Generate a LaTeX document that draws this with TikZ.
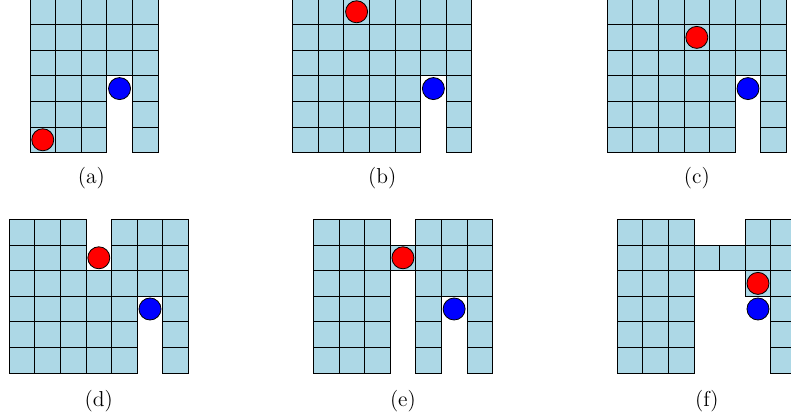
\documentclass[tikz,border=0pt]{standalone}
\usepackage{xcolor}
\usepackage{tikz}
\usetikzlibrary{positioning}

\definecolor{cellblue}{RGB}{173,216,230}

\begin{document}
\begin{tikzpicture}[
    x=0.5cm, y=0.5cm,
    cell/.style={draw=black, fill=cellblue, line width=0.45pt},
    agent/.style={circle, draw=black, line width=0.45pt, inner sep=0pt, minimum size=0.43cm},
    caption/.style={font=\large}
]
\useasboundingbox (0,0) rectangle (30.9,-16.37);
\clip (0,0) rectangle (30.9,-16.37);

% (a)
\begin{scope}[shift={(1.17,0.04)}]
\foreach \c/\rs in {1/{1,...,6}, 2/{1,...,6}, 3/{1,...,6}, 4/{1,2,3}, 5/{1,...,6}}
    \foreach \r in \rs
        \draw[cell] (\c-1,1-\r) rectangle (\c,-\r);
\node[agent, fill=red] (redA) at (0.5,-5.5) {};
\node[agent, fill=blue] (blueA) at (3.5,-3.5) {};
\node[caption] (capA) at (2.4,-7) {(a)};
\end{scope}

% (b)
\begin{scope}[shift={(11.43,0.04)}]
\foreach \c/\rs in {1/{1,...,6}, 2/{1,...,6}, 3/{1,...,6}, 4/{1,...,6}, 5/{1,...,6}, 6/{1,2,3}, 7/{1,...,6}}
    \foreach \r in \rs
        \draw[cell] (\c-1,1-\r) rectangle (\c,-\r);
\node[agent, fill=red] (redB) at (2.5,-0.5) {};
\node[agent, fill=blue] (blueB) at (5.5,-3.5) {};
\node[caption] (capB) at (3.5,-7) {(b)};
\end{scope}

% (c)
\begin{scope}[shift={(23.72,0.04)}]
\foreach \c/\rs in {1/{1,...,6}, 2/{1,...,6}, 3/{1,...,6}, 4/{1,...,6}, 5/{1,...,6}, 6/{1,2,3}, 7/{1,...,6}}
    \foreach \r in \rs
        \draw[cell] (\c-1,1-\r) rectangle (\c,-\r);
\node[agent, fill=red] (redC) at (3.5,-1.5) {};
\node[agent, fill=blue] (blueC) at (5.5,-3.5) {};
\node[caption] (capC) at (3.5,-7) {(c)};
\end{scope}

% (d)
\begin{scope}[shift={(0.36,-8.57)}]
\foreach \c/\rs in {1/{1,...,6}, 2/{1,...,6}, 3/{1,...,6}, 4/{3,4,5,6}, 5/{1,...,6}, 6/{1,2,3}, 7/{1,...,6}}
    \foreach \r in \rs
        \draw[cell] (\c-1,1-\r) rectangle (\c,-\r);
\node[agent, fill=red] (redD) at (3.5,-1.5) {};
\node[agent, fill=blue] (blueD) at (5.5,-3.5) {};
\node[caption] (capD) at (3.5,-7.1) {(d)};
\end{scope}

% (e)
\begin{scope}[shift={(12.24,-8.57)}]
\foreach \c/\rs in {1/{1,...,6}, 2/{1,...,6}, 3/{1,...,6}, 4/{2}, 5/{1,...,6}, 6/{1,2,3}, 7/{1,...,6}}
    \foreach \r in \rs
        \draw[cell] (\c-1,1-\r) rectangle (\c,-\r);
\node[agent, fill=red] (redE) at (3.5,-1.5) {};
\node[agent, fill=blue] (blueE) at (5.5,-3.5) {};
\node[caption] (capE) at (3.5,-7.1) {(e)};
\end{scope}

% (f)
\begin{scope}[shift={(24.11,-8.57)}]
\foreach \c/\rs in {1/{1,...,6}, 2/{1,...,6}, 3/{1,...,6}, 4/{2}, 5/{2}, 6/{1,2,3}, 7/{1,...,6}}
    \foreach \r in \rs
        \draw[cell] (\c-1,1-\r) rectangle (\c,-\r);
\node[agent, fill=red] (redF) at (5.5,-2.5) {};
\node[agent, fill=blue] (blueF) at (5.5,-3.5) {};
\node[caption] (capF) at (3.5,-7.1) {(f)};
\end{scope}

\end{tikzpicture}
\end{document}
